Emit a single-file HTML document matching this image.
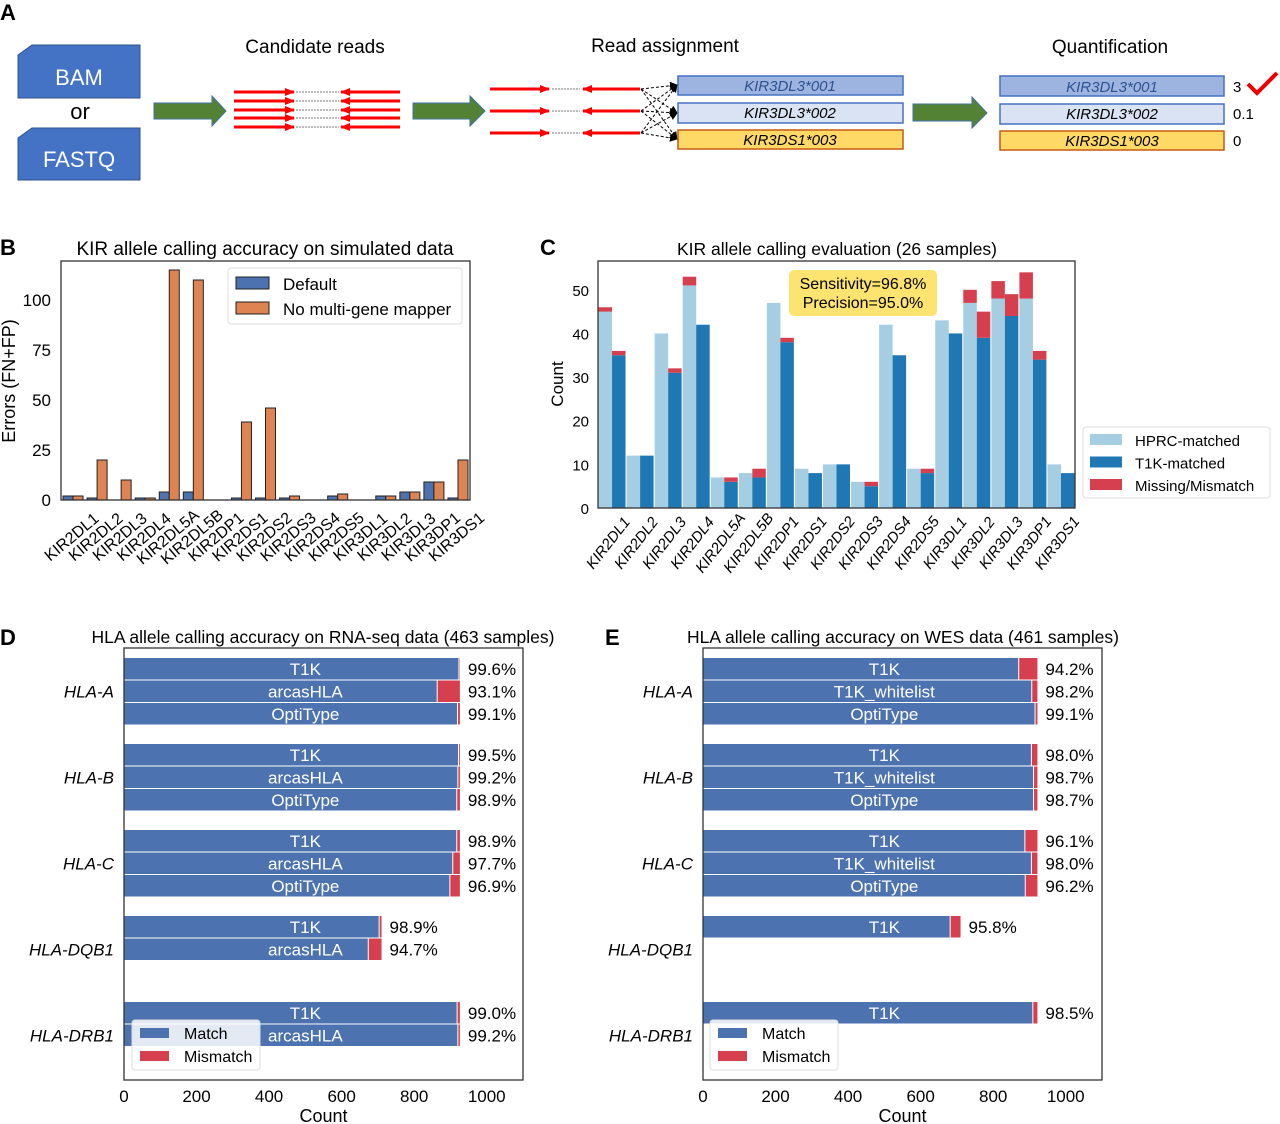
<!DOCTYPE html>
<html><head><meta charset="utf-8"><style>
html,body{margin:0;padding:0;background:#fff;}
svg{display:block;font-family:"Liberation Sans",sans-serif;}
</style></head><body>
<svg id="fig" width="1280" height="1124" viewBox="0 0 1280 1124" xmlns="http://www.w3.org/2000/svg">
<defs>
<marker id="rh" markerWidth="10" markerHeight="8" refX="9" refY="4" orient="auto" markerUnits="userSpaceOnUse"><path d="M0,0 L10,4 L0,8 z" fill="#f00"/></marker>
<marker id="bh" markerWidth="8" markerHeight="8" refX="7" refY="4" orient="auto" markerUnits="userSpaceOnUse"><path d="M0,0 L8,4 L0,8 z" fill="#000"/></marker>
</defs>
<g>
<text x="0" y="20" font-size="22" font-weight="bold">A</text>
<path d="M32,45 L140,45 L140,98 L18,98 L18,55 Z" fill="#4472c4" stroke="#2f528f"/>
<text x="79" y="85" font-size="22" fill="#fff" text-anchor="middle">BAM</text>
<text x="80" y="119" font-size="22" text-anchor="middle">or</text>
<path d="M32,128 L140,128 L140,180 L18,180 L18,138 Z" fill="#4472c4" stroke="#2f528f"/>
<text x="79" y="167" font-size="22" fill="#fff" text-anchor="middle">FASTQ</text>
<path d="M154,103 L212,103 L212,96 L226,111 L212,126 L212,119 L154,119 Z" fill="#548235" stroke="#41719c"/>
<path d="M413,103 L470,103 L470,96 L485,111 L470,126 L470,119 L413,119 Z" fill="#548235" stroke="#41719c"/>
<path d="M913,104 L972,104 L972,97 L987,113 L972,128 L972,121 L913,121 Z" fill="#548235" stroke="#41719c"/>
<text x="315" y="53" font-size="19" text-anchor="middle">Candidate reads</text>
<text x="665" y="52" font-size="19" text-anchor="middle">Read assignment</text>
<text x="1110" y="53" font-size="19" text-anchor="middle">Quantification</text>
<g id="reads"></g>
<g id="assign"></g>
<rect x="678" y="76" width="225" height="19" fill="#9db4e0" stroke="#4472c4" stroke-width="1.5"/>
<rect x="678" y="103" width="225" height="20" fill="#dae3f3" stroke="#4472c4" stroke-width="1.5"/>
<rect x="678" y="130" width="225" height="19" fill="#ffd966" stroke="#c55a11" stroke-width="1.5"/>
<text x="790" y="91" font-size="15" font-style="italic" text-anchor="middle" fill="#2f528f">KIR3DL3*001</text>
<text x="790" y="118" font-size="15" font-style="italic" text-anchor="middle">KIR3DL3*002</text>
<text x="790" y="145" font-size="15" font-style="italic" text-anchor="middle">KIR3DS1*003</text>
<rect x="1000" y="76" width="224" height="20" fill="#9db4e0" stroke="#4472c4" stroke-width="1.5"/>
<rect x="1000" y="104" width="224" height="20" fill="#dae3f3" stroke="#4472c4" stroke-width="1.5"/>
<rect x="1000" y="131" width="224" height="19" fill="#ffd966" stroke="#c55a11" stroke-width="1.5"/>
<text x="1112" y="92" font-size="15" font-style="italic" text-anchor="middle" fill="#2f528f">KIR3DL3*001</text>
<text x="1112" y="119" font-size="15" font-style="italic" text-anchor="middle">KIR3DL3*002</text>
<text x="1112" y="146" font-size="15" font-style="italic" text-anchor="middle">KIR3DS1*003</text>
<text x="1233" y="92" font-size="15">3</text>
<text x="1233" y="119" font-size="15">0.1</text>
<text x="1233" y="146" font-size="15">0</text>
<path d="M1248,84 L1257,93 L1277,73" fill="none" stroke="#e00" stroke-width="4"/>
</g>
<g id="panelB"></g>
<g id="panelC"></g>
<g id="panelD"></g>
<g id="panelE"></g>
</svg>
<script>
// ---------- Panel B data ----------
const bCats = ['KIR2DL1','KIR2DL2','KIR2DL3','KIR2DL4','KIR2DL5A','KIR2DL5B','KIR2DP1','KIR2DS1','KIR2DS2','KIR2DS3','KIR2DS4','KIR2DS5','KIR3DL1','KIR3DL2','KIR3DL3','KIR3DP1','KIR3DS1'];
const bDefault = [2,1,0,1,4,4,0,1,1,1,0,2,0,2,4,9,1];
const bNoMulti = [2,20,10,1,115,110,0,39,46,2,0,3,0,2,4,9,20];
const bTicks = [0,25,50,75,100];
// ---------- Panel C data ----------
const cCats = bCats.slice();
const cHprcMatched = [45,12,40,51,7,8,47,9,10,6,42,9,43,47,48,48,10];
const cHprcMissing = [1,0,0,2,0,0,0,0,0,0,0,0,0,3,4,6,0];
const cT1kMatched = [35,12,31,42,6,7,38,8,10,5,35,8,40,39,44,34,8];
const cT1kMismatch = [1,0,1,0,1,2,1,0,0,1,0,1,0,6,5,2,0];
const cTicks = [0,10,20,30,40,50];
// ---------- Panel D data ----------
const dGenes = ['HLA-A','HLA-B','HLA-C','HLA-DQB1','HLA-DRB1'];
const dTools = [['T1K','arcasHLA','OptiType'],['T1K','arcasHLA','OptiType'],['T1K','arcasHLA','OptiType'],['T1K','arcasHLA'],['T1K','arcasHLA']];
const dMatch = [[922,862,918],[921,919,916],[916,905,897],[702,672],[917,919]];
const dMismatch = [[4,64,8],[5,7,10],[10,21,29],[8,38],[9,7]];
const dPct = [['99.6%','93.1%','99.1%'],['99.5%','99.2%','98.9%'],['98.9%','97.7%','96.9%'],['98.9%','94.7%'],['99.0%','99.2%']];
// ---------- Panel E data ----------
const eGenes = ['HLA-A','HLA-B','HLA-C','HLA-DQB1','HLA-DRB1'];
const eTools = [['T1K','T1K_whitelist','OptiType'],['T1K','T1K_whitelist','OptiType'],['T1K','T1K_whitelist','OptiType'],['T1K'],['T1K']];
const eMatch = [[869,905,914],[904,910,910],[886,904,887],[680],[908]];
const eMismatch = [[53,17,8],[18,12,12],[36,18,35],[30],[14]];
const ePct = [['94.2%','98.2%','99.1%'],['98.0%','98.7%','98.7%'],['96.1%','98.0%','96.2%'],['95.8%'],['98.5%']];
const hTicks = [0,200,400,600,800,1000];

const NS='http://www.w3.org/2000/svg';
function mk(tag, attrs, parent, txt){
  const e=document.createElementNS(NS,tag);
  for(const k in attrs) e.setAttribute(k,attrs[k]);
  if(txt!==undefined) e.textContent=txt;
  parent.appendChild(e); return e;
}

// ---------- Panel A reads ----------
(function(){
  const g=document.getElementById('reads');
  [92,101,110,118,127].forEach(y=>{
    let a=mk('line',{x1:234,y1:y,x2:294,y2:y,stroke:'#f00','stroke-width':3,'marker-end':'url(#rh)'},g);
    
    
    let b=mk('line',{x1:400,y1:y,x2:341,y2:y,stroke:'#f00','stroke-width':3,'marker-end':'url(#rh)'},g);
    
    
    let c=mk('line',{x1:296,y1:y,x2:339,y2:y,stroke:'#777','stroke-width':1,'stroke-dasharray':'2,1'},g);
    
    
  });
  const h=document.getElementById('assign');
  [89,111,133].forEach(y=>{
    let a=mk('line',{x1:490,y1:y,x2:549,y2:y,stroke:'#f00','stroke-width':3,'marker-end':'url(#rh)'},h);
    
    
    let b=mk('line',{x1:640,y1:y,x2:583,y2:y,stroke:'#f00','stroke-width':3,'marker-end':'url(#rh)'},h);
    
    
    let c=mk('line',{x1:552,y1:y,x2:580,y2:y,stroke:'#777','stroke-width':1,'stroke-dasharray':'2,1'},h);
    
    
    [85,113,139].forEach(ty=>{
      let d=mk('line',{x1:641,y1:y,x2:677,y2:ty,stroke:'#000','stroke-width':1,'stroke-dasharray':'3,2','marker-end':'url(#bh)'},h);
      
      
    });
  });
})();

// ---------- Panel B ----------
(function(){
  const g=document.getElementById('panelB');
  const L=61,R=470,T=261,B=500,ymax=119.5;
  const y=v=>B-(v/ymax)*(B-T);
  const gw=(R-L)/bCats.length;
  const xc=i=>L+gw*(i+0.5);
  let t=mk('text',{x:0,y:255,'font-size':22,'font-weight':'bold'},g,'B');
  
  
  t=mk('text',{x:265,y:255,'font-size':19,'text-anchor':'middle'},g,'KIR allele calling accuracy on simulated data');
  
  
  bTicks.forEach(v=>{
    let tl=mk('text',{x:51,y:y(v)+6,'font-size':17,'text-anchor':'end'},g,String(v));
    
    
  });
  t=mk('text',{x:0,y:0,'font-size':18,'text-anchor':'middle',transform:'translate(15,381) rotate(-90)'},g,'Errors (FN+FP)');
  
  
  const bw=10;
  bCats.forEach((c,i)=>{
    let r1=mk('rect',{x:xc(i)-bw,y:y(bDefault[i]),width:bw,height:B-y(bDefault[i]),fill:'#4c72b0',stroke:'#222','stroke-width':1},g);
    
    
    let r2=mk('rect',{x:xc(i),y:y(bNoMulti[i]),width:bw,height:B-y(bNoMulti[i]),fill:'#dd8452',stroke:'#222','stroke-width':1},g);
    
    
    let tl=mk('text',{x:0,y:0,'font-size':16,'text-anchor':'middle',transform:`translate(${xc(i)+2},${541}) rotate(-40)`},g,c);
    
    
  });
  let ax=mk('rect',{x:L,y:T,width:R-L,height:B-T,fill:'none',stroke:'#333','stroke-width':1.3},g);
  
  
  let lg=mk('g',{},g);
  
  
  mk('rect',{x:228,y:268,width:234,height:56,rx:3,fill:'#fff',stroke:'#ddd'},lg);
  let p1=mk('rect',{x:236,y:277,width:33,height:12,fill:'#4c72b0',stroke:'#222'},lg);
  
  
  mk('text',{x:283,y:290,'font-size':17},lg,'Default');
  let p2=mk('rect',{x:236,y:302,width:33,height:12,fill:'#dd8452',stroke:'#222'},lg);
  
  
  mk('text',{x:283,y:315,'font-size':17},lg,'No multi-gene mapper');
})();

// ---------- Panel C ----------
(function(){
  const g=document.getElementById('panelC');
  const L=598,R=1075,T=261,B=508,ymax=56.6;
  const y=v=>B-(v/ymax)*(B-T);
  const gw=(R-L)/cCats.length;
  const xc=i=>L+gw*(i+0.5);
  let t=mk('text',{x:540,y:255,'font-size':22,'font-weight':'bold'},g,'C');
  
  
  t=mk('text',{x:837,y:255,'font-size':17.5,'text-anchor':'middle'},g,'KIR allele calling evaluation (26 samples)');
  
  
  cTicks.forEach(v=>{
    let tl=mk('text',{x:589,y:y(v)+6,'font-size':15,'text-anchor':'end'},g,String(v));
    
    
  });
  t=mk('text',{x:0,y:0,'font-size':17,'text-anchor':'middle',transform:'translate(563,384) rotate(-90)'},g,'Count');
  
  
  const bw=13.5, red='#d6404e';
  cCats.forEach((c,i)=>{
    const x0=xc(i)-bw, x1=xc(i);
    let a=mk('rect',{x:x0,y:y(cHprcMatched[i]),width:bw,height:B-y(cHprcMatched[i]),fill:'#a6cee3'},g);
    
    
    let a2=mk('rect',{x:x0,y:y(cHprcMatched[i]+cHprcMissing[i]),width:bw,height:y(cHprcMatched[i])-y(cHprcMatched[i]+cHprcMissing[i]),fill:red},g);
    
    
    let b=mk('rect',{x:x1,y:y(cT1kMatched[i]),width:bw,height:B-y(cT1kMatched[i]),fill:'#1f78b4'},g);
    
    
    let b2=mk('rect',{x:x1,y:y(cT1kMatched[i]+cT1kMismatch[i]),width:bw,height:y(cT1kMatched[i])-y(cT1kMatched[i]+cT1kMismatch[i]),fill:red},g);
    
    
    let tl=mk('text',{x:0,y:0,'font-size':15,'font-style':'italic','text-anchor':'middle',transform:`translate(${xc(i)},${546}) rotate(-52)`},g,c);
    
    
  });
  let ax=mk('rect',{x:L,y:T,width:R-L,height:B-T,fill:'none',stroke:'#333','stroke-width':1.3},g);
  
  
  let an=mk('g',{},g);
  
  
  mk('rect',{x:789,y:270,width:148,height:46,rx:5,fill:'#fde36f'},an);
  mk('text',{x:863,y:289,'font-size':16,'text-anchor':'middle'},an,'Sensitivity=96.8%');
  mk('text',{x:863,y:308,'font-size':16,'text-anchor':'middle'},an,'Precision=95.0%');
  let lg=mk('g',{},g);
  
  
  mk('rect',{x:1083,y:427,width:187,height:71,rx:3,fill:'#fff',stroke:'#ddd'},lg);
  [['#a6cee3','HPRC-matched'],['#1f78b4','T1K-matched'],[red,'Missing/Mismatch']].forEach((e,k)=>{
    let p=mk('rect',{x:1090,y:434+k*22.5,width:32,height:11,fill:e[0]},lg);
    
    
    mk('text',{x:1135,y:446+k*22.5,'font-size':15},lg,e[1]);
  });
})();

// ---------- Panels D/E ----------
function hpanel(gid,label,lx,title,tcx,L,genes,tools,match,mism,pct,legendX){
  const g=document.getElementById(gid);
  const T=648,B=1080,R=L+399,xmax=1100;
  const x=v=>L+(v/xmax)*(R-L);
  let t=mk('text',{x:lx,y:645,'font-size':22,'font-weight':'bold'},g,label);
  
  
  t=mk('text',{x:tcx,y:643,'font-size':17.5,'text-anchor':'middle'},g,title);
  
  
  genes.forEach((gn,gi)=>{
    const gy0=658+gi*86;
    const gl=mk('text',{x:L-10,y:gy0+22.5+17,'font-size':17,'font-style':'italic','text-anchor':'end'},g,gn);
    
    
    tools[gi].forEach((tn,ti)=>{
      const by=gy0+ti*22.5;
      const m=match[gi][ti], mm=mism[gi][ti];
      let r=mk('rect',{x:L,y:by,width:x(m)-L,height:21.5,fill:'#4c72b0'},g);
      
      
      let r2=mk('rect',{x:x(m)+1,y:by,width:Math.max(0,x(m+mm)-x(m)-1),height:21.5,fill:'#d6404e'},g);
      
      
      let tl=mk('text',{x:x(500),y:by+17,'font-size':17,'fill':'#fff','text-anchor':'middle'},g,tn);
      
      
      let pl=mk('text',{x:x(m+mm)+8,y:by+17,'font-size':17},g,pct[gi][ti]);
      
      
    });
  });
  hTicks.forEach(v=>{
    let tl=mk('text',{x:x(v),y:1102,'font-size':17,'text-anchor':'middle'},g,String(v));
    
    
  });
  t=mk('text',{x:(L+R)/2,y:1122,'font-size':18,'text-anchor':'middle'},g,'Count');
  
  
  let ax=mk('rect',{x:L,y:T,width:R-L,height:B-T,fill:'none',stroke:'#333','stroke-width':1.3},g);
  
  
  let lg=mk('g',{},g);
  
  
  mk('rect',{x:legendX,y:1020,width:128,height:50,rx:3,fill:'#fff','fill-opacity':0.85,stroke:'#ddd'},lg);
  let p1=mk('rect',{x:legendX+8,y:1028,width:29,height:10,fill:'#4c72b0'},lg);
  
  
  mk('text',{x:legendX+52,y:1039,'font-size':16},lg,'Match');
  let p2=mk('rect',{x:legendX+8,y:1051,width:29,height:10,fill:'#d6404e'},lg);
  
  
  mk('text',{x:legendX+52,y:1062,'font-size':16},lg,'Mismatch');
}
hpanel('panelD','D',0,'HLA allele calling accuracy on RNA-seq data (463 samples)',323,124,dGenes,dTools,dMatch,dMismatch,dPct,132);
hpanel('panelE','E',605,'HLA allele calling accuracy on WES data (461 samples)',903,703,eGenes,eTools,eMatch,eMismatch,ePct,710);
</script>
</body></html>
